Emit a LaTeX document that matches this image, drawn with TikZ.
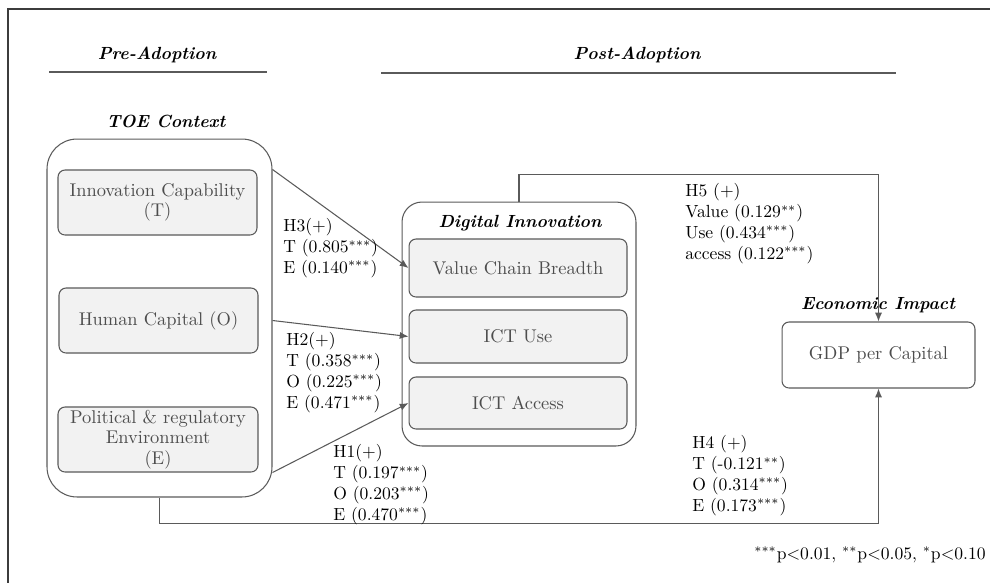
\documentclass[tikz,border=0pt]{standalone}
\definecolor{rmLine}{HTML}{5A5A5A}
\definecolor{rmFill}{HTML}{F2F2F2}
\definecolor{rmText}{HTML}{4D4D4D}
\definecolor{rmFrame}{HTML}{3C3C3C}
\usetikzlibrary{positioning,arrows.meta}

\tikzset{
  outerbox/.style={draw=rmLine, fill=white, line width=0.6pt},
  itembox/.style={draw=rmLine, fill=rmFill, rounded corners=4pt, line width=0.6pt,
    text=rmText, align=center, inner sep=0pt,
    font=\fontsize{10.5}{11.6}\selectfont},
  phase/.style={font=\fontsize{10}{12}\selectfont\bfseries\itshape, inner sep=0pt},
  hyplabel/.style={align=left, anchor=north west, inner sep=0pt,
    font=\fontsize{10}{11.9}\selectfont},
  link/.style={draw=rmLine, line width=0.6pt, -{Latex[length=5pt,width=4pt]}},
}

\begin{document}
\begin{tikzpicture}[x=0.02cm, y=-0.02cm]
  \useasboundingbox (0,0) rectangle (990,583);
  % frame edges
  \draw[rmFrame, line width=0.8pt] (990,9) -- (8,9) -- (8,583);

  % phases
  \node[phase, anchor=base] (pre) at (157,59) {Pre-Adoption};
  \node[phase, anchor=base] (post) at (637,59) {Post-Adoption};
  \draw[rmLine, line width=0.8pt] (49,72) -- (267,72);
  \draw[rmLine, line width=0.8pt] (381,73) -- (896,73);

  % TOE context
  \node[phase, anchor=base] (toetitle) at (166,127) {TOE Context};
  \node[outerbox, rounded corners=0.6cm, minimum width=4.5cm, minimum height=7.16cm] (toe) at (159.5,318) {};
  \node[itembox, minimum width=3.98cm, minimum height=1.3cm] (ic) at (157.5,202.5) {Innovation Capability\\(T)};
  \node[itembox, minimum width=3.98cm, minimum height=1.3cm] (hc) at (158.5,320.5) {Human Capital (O)};
  \node[itembox, minimum width=4.0cm, minimum height=1.3cm] (pol) at (158,439.5) {Political \& regulatory\\Environment\\(E)};

  % digital innovation
  \node[outerbox, rounded corners=0.4cm, minimum width=4.68cm, minimum height=4.88cm] (di) at (519,324) {};
  \node[phase, anchor=base] (dititle) at (520,227) {Digital Innovation};
  \node[itembox, minimum width=4.36cm, minimum height=1.16cm] (vcb) at (518,268) {Value Chain Breadth};
  \node[itembox, minimum width=4.36cm, minimum height=1.06cm] (use) at (518,336.5) {ICT Use};
  \node[itembox, minimum width=4.36cm, minimum height=1.04cm] (acc) at (518,403) {ICT Access};

  % economic impact
  \node[phase, anchor=base] (eititle) at (878,309) {Economic Impact};
  \node[outerbox, rounded corners=4pt, text=rmText, font=\fontsize{10.5}{11.6}\selectfont,
    minimum width=3.86cm, minimum height=1.32cm] (gdp) at (878.5,355) {GDP per Capital};

  % paths
  \draw[link] (toe.east |- ic.north) -- (vcb.west);
  \draw[link] (toe.east |- hc.center) -- (use.west);
  \draw[link] (toe.east |- pol.south) -- (acc.west);
  \draw[link] (di.north) -- ++(0,-27) -| (gdp.north);
  \draw[link] (toe.south) -- ++(0,26) -| (gdp.south);

  % hypotheses
  \node[hyplabel] (h3) at (283,218) {H3(+)\\T (0.805$^{***}$)\\E (0.140$^{***}$)};
  \node[hyplabel] (h2) at (286,332) {H2(+)\\T (0.358$^{***}$)\\O (0.225$^{***}$)\\E (0.471$^{***}$)};
  \node[hyplabel] (h1) at (333,444) {H1(+)\\T (0.197$^{***}$)\\O (0.203$^{***}$)\\E (0.470$^{***}$)};
  \node[hyplabel] (h5) at (685,183) {H5 (+)\\Value (0.129$^{**}$)\\Use (0.434$^{***}$)\\access (0.122$^{***}$)};
  \node[hyplabel] (h4) at (692,435) {H4 (+)\\T (-0.121$^{**}$)\\O (0.314$^{***}$)\\E (0.173$^{***}$)};
  \node[anchor=base east, inner sep=0pt, font=\fontsize{10}{12}\selectfont] (note) at (986,559)
    {$^{***}$p{\textless}0.01, $^{**}$p{\textless}0.05, $^{*}$p{\textless}0.10};
\end{tikzpicture}
\end{document}
